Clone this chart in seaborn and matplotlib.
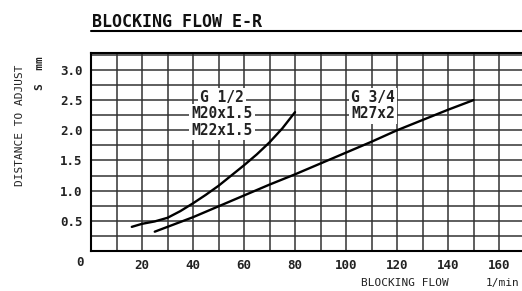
import matplotlib.pyplot as plt
import matplotlib.lines as mlines
import pandas as pd
import seaborn as sns

# Curve data
g12_flow = [16, 20, 25, 30, 35, 40, 45, 50, 55, 60, 65, 70, 75, 80]
g12_dist = [0.40, 0.45, 0.49, 0.55, 0.66, 0.79, 0.93, 1.08, 1.25, 1.42, 1.60, 1.80, 2.03, 2.30]
g34_flow = [25, 30, 35, 40, 50, 60, 70, 80, 90, 100, 110, 120, 130, 140, 150]
g34_dist = [0.32, 0.40, 0.48, 0.56, 0.74, 0.92, 1.10, 1.27, 1.45, 1.63, 1.81, 2.00, 2.17, 2.34, 2.50]

x_ticks = [20, 40, 60, 80, 100, 120, 140, 160]
y_ticks = [0.5, 1.0, 1.5, 2.0, 2.5, 3.0]

df = pd.concat([
    pd.DataFrame({'flow': g12_flow, 'dist': g12_dist, 'size': 'G 1/2'}),
    pd.DataFrame({'flow': g34_flow, 'dist': g34_dist, 'size': 'G 3/4'}),
])

sns.set_style('white')
plt.rcParams['font.family'] = ['DejaVu Sans Mono']

fig = plt.figure(figsize=(5.22, 2.91), dpi=100)
ax = fig.add_axes([91 / 522, 1 - 251 / 291, 1 - 91 / 522, 198 / 291])

sns.lineplot(data=df, x='flow', y='dist', units='size', estimator=None,
             color='black', linewidth=1.7, legend=False, ax=ax)

ax.set_xlim(0, 169)
ax.set_ylim(0, 3.28)

# grid: every 10 l/min and every 0.25 mm
ax.set_xticks(x_ticks)
ax.set_xticklabels([str(v) for v in x_ticks])
ax.set_yticks(y_ticks)
ax.set_yticklabels(['%.1f' % v for v in y_ticks])
ax.set_xticks(range(10, 170, 10), minor=True)
ax.set_yticks([i * 0.25 for i in range(1, 14)], minor=True)
ax.grid(which='both', color='#333333', linewidth=1.1)
ax.set_axisbelow(True)

ax.tick_params(which='both', length=0)
ax.tick_params(labelsize=9, pad=6)
for lab in ax.get_xticklabels() + ax.get_yticklabels():
    lab.set_fontweight('bold')
    lab.set_color('#222222')

for side in ['left', 'bottom', 'top']:
    ax.spines[side].set_color('black')
    ax.spines[side].set_linewidth(1.5)
ax.spines['right'].set_visible(False)

ax.set_xlabel('')
ax.set_ylabel('')

box = dict(facecolor='white', edgecolor='none', pad=1.5)
lab_kw = dict(ha='center', va='center', fontsize=10.5, fontweight='bold',
              color='#222222', bbox=box)
ax.text(51.4, 2.54, 'G 1/2', **lab_kw)
ax.text(51.4, 2.27, 'M20x1.5', **lab_kw)
ax.text(51.4, 1.99, 'M22x1.5', **lab_kw)
ax.text(110.6, 2.54, 'G 3/4', **lab_kw)
ax.text(110.6, 2.27, 'M27x2', **lab_kw)

# axis texts
fig.text(80 / 522, 1 - 263 / 291, '0', ha='center', va='center',
         fontsize=9, fontweight='bold', color='#222222')
fig.text(405 / 522, 1 - 283 / 291, 'BLOCKING FLOW', ha='center', va='center',
         fontsize=8, color='#222222')
fig.text(503 / 522, 1 - 283 / 291, '1/min', ha='center', va='center',
         fontsize=8, color='#222222')
fig.text(20 / 522, 1 - 125 / 291, 'DISTANCE TO ADJUST', rotation=90,
         ha='center', va='center', fontsize=8, color='#222222')
fig.text(40 / 522, 1 - 73 / 291, 'S  mm', rotation=90,
         ha='center', va='center', fontsize=8, fontweight='bold', color='#222222')

# title with underline
fig.text(92 / 522, 1 - 22 / 291, 'BLOCKING FLOW E-R', ha='left', va='center',
         fontsize=12, fontweight='bold', color='#111111')
fig.add_artist(mlines.Line2D([91 / 522, 1], [1 - 31 / 291, 1 - 31 / 291],
                             color='black', linewidth=1.5))

fig.savefig('out.png', dpi=100)
